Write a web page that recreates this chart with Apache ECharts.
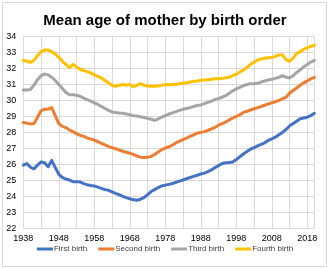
<!DOCTYPE html>
<html>
<head>
<meta charset="utf-8">
<script src="https://cdn.jsdelivr.net/npm/echarts@6/dist/echarts.min.js"></script>
<style>
  html, body { margin: 0; padding: 0; background: #fff; }
  #main { width: 330px; height: 269px; }
</style>
</head>
<body>
<div id="main"></div>
<script>
// years 1938..2020
var years = [];
for (var y = 1938; y <= 2020; y++) years.push(String(y));

var firstBirth = [
  25.95, 26.05, 25.82, 25.72, 25.95, 26.15, 26.1, 25.85, 26.25, 25.8,
  25.38, 25.18, 25.08, 25.02, 24.92, 24.92, 24.9, 24.8, 24.72, 24.68,
  24.65, 24.58, 24.5, 24.42, 24.38, 24.28, 24.18, 24.1, 24.0, 23.92,
  23.85, 23.78, 23.75, 23.82, 23.92, 24.1, 24.3, 24.42, 24.55, 24.65,
  24.7, 24.75, 24.8, 24.88, 24.95, 25.02, 25.1, 25.18, 25.25, 25.32,
  25.4, 25.45, 25.55, 25.65, 25.8, 25.92, 26.05, 26.1, 26.12, 26.15,
  26.3, 26.48, 26.65, 26.8, 26.95, 27.05, 27.15, 27.25, 27.35, 27.5,
  27.6, 27.7, 27.85, 28.0, 28.18, 28.4, 28.55, 28.7, 28.85, 28.9,
  28.95, 29.05, 29.2
];
var secondBirth = [
  28.62, 28.58, 28.52, 28.55, 28.95, 29.35, 29.45, 29.45, 29.55, 29.05,
  28.55, 28.38, 28.3, 28.15, 28.05, 27.92, 27.82, 27.75, 27.65, 27.58,
  27.52, 27.42, 27.32, 27.22, 27.12, 27.05, 26.98, 26.9, 26.82, 26.76,
  26.7, 26.62, 26.52, 26.45, 26.43, 26.44, 26.5, 26.62, 26.78, 26.92,
  27.02, 27.1, 27.2, 27.35, 27.45, 27.55, 27.65, 27.75, 27.85, 27.95,
  28.0, 28.05, 28.12, 28.22, 28.32, 28.45, 28.55, 28.65, 28.78, 28.9,
  29.0, 29.1, 29.25, 29.32, 29.4, 29.48, 29.55, 29.62, 29.7, 29.78,
  29.85, 29.92, 30.0, 30.1, 30.2, 30.45, 30.62, 30.78, 30.95, 31.1,
  31.22, 31.35, 31.45
];
var thirdBirth = [
  30.65, 30.65, 30.68, 30.95, 31.3, 31.55, 31.65, 31.6, 31.45, 31.25,
  31.0, 30.75, 30.5, 30.35, 30.35, 30.33, 30.25, 30.15, 30.05, 29.95,
  29.85, 29.75, 29.62, 29.5, 29.38, 29.28, 29.25, 29.22, 29.2, 29.15,
  29.1, 29.05, 29.02, 28.98, 28.93, 28.88, 28.82, 28.75, 28.85, 28.95,
  29.05, 29.15, 29.22, 29.3, 29.38, 29.45, 29.5, 29.55, 29.62, 29.68,
  29.72, 29.8, 29.88, 29.95, 30.05, 30.12, 30.2, 30.3, 30.45, 30.6,
  30.72, 30.82, 30.92, 31.0, 31.05, 31.05, 31.07, 31.15, 31.22, 31.28,
  31.32, 31.38, 31.45, 31.55, 31.45, 31.4, 31.55, 31.75, 31.92, 32.1,
  32.25, 32.4, 32.5
];
var fourthBirth = [
  32.5, 32.45, 32.38, 32.5, 32.8, 33.05, 33.15, 33.15, 33.05, 32.9,
  32.7, 32.45, 32.25, 32.05, 32.25, 32.1, 31.95, 31.87, 31.8, 31.72,
  31.6, 31.5, 31.4, 31.25, 31.1, 30.95, 30.88, 30.95, 31.0, 30.95,
  31.0, 30.85, 30.95, 31.05, 30.95, 30.9, 30.88, 30.88, 30.9, 30.95,
  31.0, 30.98, 31.0, 31.0, 31.05, 31.08, 31.1, 31.15, 31.2, 31.22,
  31.26, 31.28, 31.3, 31.32, 31.35, 31.36, 31.38, 31.42, 31.45, 31.55,
  31.65, 31.78, 31.9, 32.05, 32.25, 32.4, 32.52, 32.6, 32.64, 32.67,
  32.7, 32.75, 32.85, 32.85, 32.55, 32.45, 32.65, 32.95, 33.05, 33.2,
  33.3, 33.38, 33.45
];
var seriesNames = ['First birth', 'Second birth', 'Third birth', 'Fourth birth'];
var seriesColors = ['#4472C4', '#ED7D31', '#A5A5A5', '#FFC000'];
var seriesData = [firstBirth, secondBirth, thirdBirth, fourthBirth];

var chart = echarts.init(document.getElementById('main'), null, { renderer: 'canvas' });

var series = seriesNames.map(function (name, i) {
  return {
    name: name,
    type: 'line',
    data: seriesData[i],
    symbol: 'none',
    smooth: false,
    lineStyle: { width: 3, color: seriesColors[i], cap: 'round', join: 'round' },
    itemStyle: { color: seriesColors[i] }
  };
});

var option = {
  animation: false,
  backgroundColor: '#fff',
  title: {
    text: 'Mean age of mother by birth order',
    left: 'center',
    top: 8,
    textStyle: { fontFamily: 'Liberation Sans', fontSize: 15, fontWeight: 'bold', color: '#000' }
  },
  graphic: [{
    type: 'rect',
    shape: { x: 2.5, y: 2.5, width: 324, height: 264 },
    style: { fill: 'none', stroke: '#d9d9d9', lineWidth: 1 },
    silent: true
  }],
  legend: {
    data: seriesNames,
    bottom: 11,
    left: 'center',
    icon: 'rect',
    itemWidth: 16,
    itemHeight: 3,
    itemGap: 11,
    textStyle: { fontFamily: 'Liberation Sans', fontSize: 8, color: '#404040', padding: [0, 0, 0, -4] }
  },
  grid: { left: 23.3, right: 15.6, top: 36.5, bottom: 40.7, containLabel: false },
  xAxis: {
    type: 'category',
    data: years,
    boundaryGap: false,
    axisLine: { show: false },
    axisTick: { show: false },
    axisLabel: {
      interval: 9,
      margin: 6,
      fontFamily: 'Liberation Sans',
      fontSize: 9,
      color: '#000'
    },
    splitLine: {
      show: true,
      interval: function (index) { return index % 5 === 0 || index === years.length - 1; },
      lineStyle: { color: '#d9d9d9', width: 1 }
    }
  },
  yAxis: {
    type: 'value',
    min: 22,
    max: 34,
    interval: 1,
    axisLine: { show: false },
    axisTick: { show: false },
    axisLabel: { margin: 7, fontFamily: 'Liberation Sans', fontSize: 9, color: '#000' },
    splitLine: { lineStyle: { color: '#d9d9d9', width: 1 } }
  },
  series: series
};

chart.setOption(option);
</script>
</body>
</html>
